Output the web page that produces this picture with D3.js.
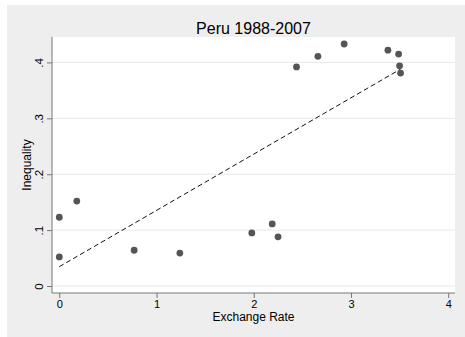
<!DOCTYPE html>
<html><head><meta charset="utf-8">
<script src="https://cdn.jsdelivr.net/npm/d3@7"></script>
<style>body{margin:0;background:#fff}svg{display:block}text{font-family:"Liberation Sans",Arial,sans-serif;fill:#000}</style>
</head><body><svg id="c" width="465" height="337"></svg>
<script>
const title = "Peru 1988-2007";
const xLabel = "Exchange Rate";
const yLabel = "Inequality";
const exchangeRate = [0, 0, 0.18, 0.77, 1.24, 1.98, 2.19, 2.25, 2.44, 2.66, 2.93, 3.38, 3.49, 3.50, 3.51];
const inequality = [0.052, 0.123, 0.152, 0.064, 0.059, 0.095, 0.111, 0.088, 0.392, 0.411, 0.433, 0.422, 0.415, 0.394, 0.381];
const xTicks = [0, 1, 2, 3, 4];
const xTickLabels = ["0", "1", "2", "3", "4"];
const yTicks = [0, 0.1, 0.2, 0.3, 0.4];
const yTickLabels = ["0", ".1", ".2", ".3", ".4"];

const svg = d3.select("#c");
svg.append("rect").attr("x",7).attr("y",5).attr("width",458).attr("height",332).attr("fill","#eeeeee");
const L=52, R=455, T=37, B=293;
svg.append("rect").attr("x",L).attr("y",T).attr("width",R-L).attr("height",B-T).attr("fill","#fff");
const x = d3.scaleLinear().domain([-0.075, 4.07]).range([L, R]);
const y = d3.scaleLinear().domain([-0.0125, 0.4455]).range([B, T]);

// gridlines
svg.append("g").selectAll("line").data(yTicks).join("line")
  .attr("x1",L).attr("x2",R).attr("y1",d=>y(d)).attr("y2",d=>y(d))
  .attr("stroke","#e8e8e8").attr("stroke-width",1);

// axes
const yAxis = d3.axisLeft(y).tickValues(yTicks).tickFormat((d,i)=>yTickLabels[i]).tickSize(5).tickPadding(4);
const gy = svg.append("g").attr("transform",`translate(${L},0)`).call(yAxis);
gy.select(".domain").attr("stroke","#777").attr("d",`M0,${T}V${B}`);
gy.selectAll(".tick line").attr("stroke","#777");
gy.selectAll(".tick text").attr("font-size",11.5).attr("font-family","Liberation Sans, Arial, sans-serif")
  .attr("text-anchor","middle").attr("transform","rotate(-90)").attr("x",0).attr("dy",0)
  .attr("y",-9).attr("dominant-baseline","auto");

const xAxis = d3.axisBottom(x).tickValues(xTicks).tickFormat((d,i)=>xTickLabels[i]).tickSize(5).tickPadding(2);
const gx = svg.append("g").attr("transform",`translate(0,${B})`).call(xAxis);
gx.select(".domain").attr("stroke","#777").attr("d",`M${L},0H${R}`);
gx.selectAll(".tick line").attr("stroke","#777");
gx.selectAll(".tick text").attr("font-size",11).attr("font-family","Liberation Sans, Arial, sans-serif").attr("fill","#000");

// OLS fit
const n = exchangeRate.length;
const mx = d3.mean(exchangeRate), my = d3.mean(inequality);
let sxy=0, sxx=0;
for(let i=0;i<n;i++){sxy+=(exchangeRate[i]-mx)*(inequality[i]-my); sxx+=(exchangeRate[i]-mx)**2;}
const b = sxy/sxx, a = my - b*mx;
const [x0,x1] = d3.extent(exchangeRate);
svg.append("line").attr("x1",x(x0)).attr("y1",y(a+b*x0)).attr("x2",x(x1)).attr("y2",y(a+b*x1))
  .attr("stroke","#111").attr("stroke-width",1).attr("stroke-dasharray","5,3");

// points
svg.append("g").selectAll("circle").data(exchangeRate).join("circle")
  .attr("cx",d=>x(d)).attr("cy",(d,i)=>y(inequality[i])).attr("r",3.4).attr("fill","#555");

svg.append("text").attr("x",(L+R)/2).attr("y",34).attr("text-anchor","middle").attr("font-size",16).text(title);
svg.append("text").attr("x",(L+R)/2).attr("y",321).attr("text-anchor","middle").attr("font-size",12).text(xLabel);
svg.append("text").attr("transform",`translate(31,${(T+B)/2}) rotate(-90)`).attr("text-anchor","middle").attr("font-size",12).text(yLabel);
</script></body></html>
